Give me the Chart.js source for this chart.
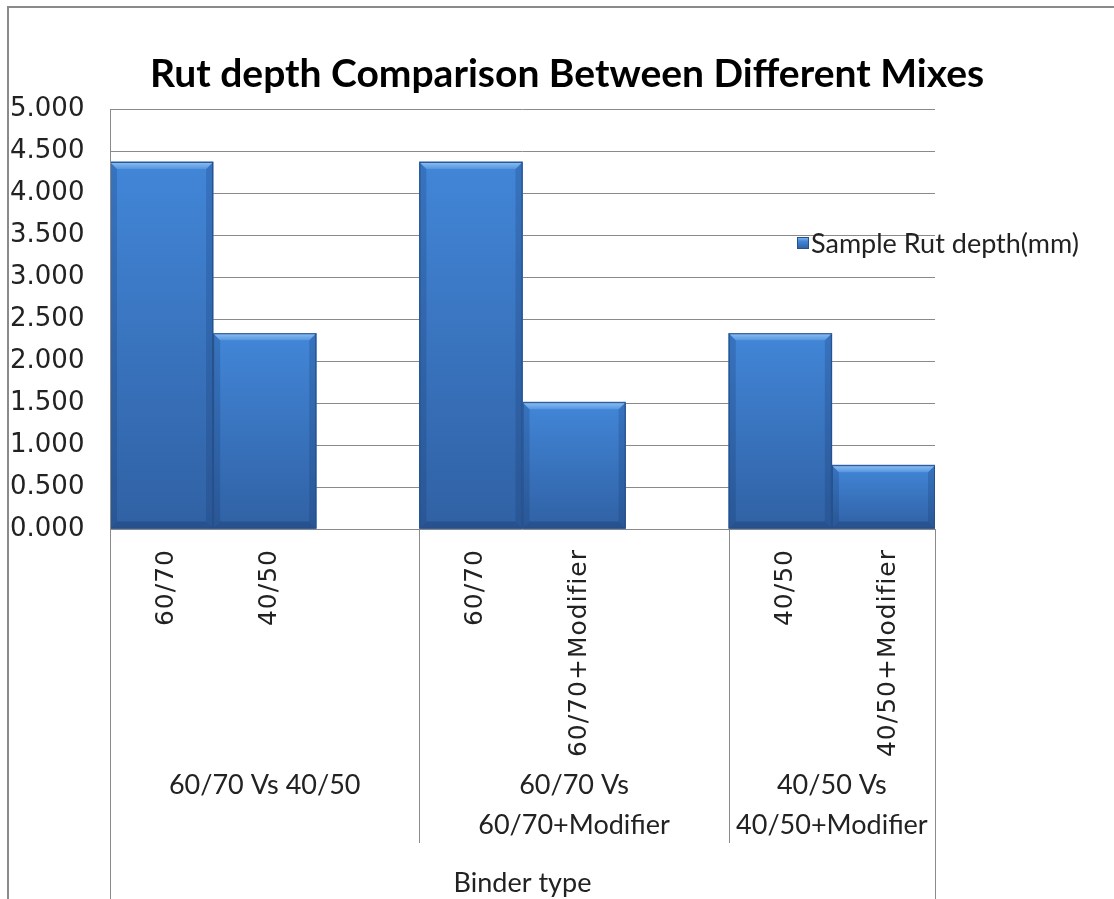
<!DOCTYPE html>
<html>
<head>
<meta charset="utf-8">
<script src="https://cdn.jsdelivr.net/npm/chart.js@4.4.0/dist/chart.umd.min.js"></script>
<style>
    html, body { margin: 0; padding: 0; background: #fff; }
    canvas { display: block; }
</style>
</head>
<body>
<canvas id="rutChart" width="1114" height="899"></canvas>
<script>
// Chart data
const chartTitle = "Rut depth Comparison Between Different Mixes";
const seriesName = "Sample Rut depth(mm)";
const axisTitle = "Binder type";
const categories = ["60/70", "40/50", "", "60/70", "60/70+Modifier", "", "40/50", "40/50+Modifier"];
const rutDepth = [4.37, 2.33, null, 4.37, 1.51, null, 2.33, 0.76];
const groupLabels = [["60/70 Vs 40/50"], ["60/70 Vs", "60/70+Modifier"], ["40/50 Vs", "40/50+Modifier"]];
const groupSizes = [3, 3, 2];
const yMin = 0, yMax = 5, yStep = 0.5;

const labelFont = "Lato, 'Open Sans', sans-serif";
const tickFont = "'DejaVu Sans', Verdana, sans-serif";

// Excel-like look: frame, bevelled bars, multi-level category axis
const excelLook = {
    id: "excelLook",
    beforeDraw(chart) {
        const { ctx, width, height } = chart;
        ctx.save();
        ctx.fillStyle = "#fff";
        ctx.fillRect(0, 0, width, height);
        ctx.strokeStyle = "#8a8a8a";
        ctx.lineWidth = 2;
        ctx.beginPath();
        ctx.moveTo(8, height);
        ctx.lineTo(8, 7);
        ctx.lineTo(width, 7);
        ctx.stroke();
        ctx.restore();
    },
    afterDatasetsDraw(chart) {
        const { ctx } = chart;
        const meta = chart.getDatasetMeta(0);
        ctx.save();
        meta.data.forEach((bar, i) => {
            if (rutDepth[i] === null) return;
            const { x, y, base, width } = bar.getProps(["x", "y", "base", "width"], true);
            const l = x - width / 2, r = x + width / 2, h = base - y;
            const body = ctx.createLinearGradient(0, y, 0, base);
            body.addColorStop(0, "#4286d8");
            body.addColorStop(1, "#3061a4");
            ctx.fillStyle = body;
            ctx.fillRect(l, y, width, h);
            const b = 7;
            // side shading
            ctx.fillStyle = "rgba(20,50,100,0.22)";
            ctx.beginPath();
            ctx.moveTo(l, y); ctx.lineTo(l + b, y + b); ctx.lineTo(l + b, base - b); ctx.lineTo(l, base);
            ctx.closePath(); ctx.fill();
            ctx.beginPath();
            ctx.moveTo(r, y); ctx.lineTo(r - b, y + b); ctx.lineTo(r - b, base - b); ctx.lineTo(r, base);
            ctx.closePath(); ctx.fill();
            ctx.fillStyle = "rgba(20,45,90,0.3)";
            ctx.beginPath();
            ctx.moveTo(l, base); ctx.lineTo(l + b, base - b); ctx.lineTo(r - b, base - b); ctx.lineTo(r, base);
            ctx.closePath(); ctx.fill();
            // top highlight
            const top = ctx.createLinearGradient(0, y, 0, y + b);
            top.addColorStop(0, "#8fc0f4");
            top.addColorStop(1, "#5596e0");
            ctx.fillStyle = top;
            ctx.beginPath();
            ctx.moveTo(l, y); ctx.lineTo(r, y); ctx.lineTo(r - b, y + b); ctx.lineTo(l + b, y + b);
            ctx.closePath(); ctx.fill();
            ctx.strokeStyle = "#274f88";
            ctx.lineWidth = 1;
            ctx.strokeRect(l + 0.5, y + 0.5, width - 1, h - 1);
        });
        ctx.restore();
    },
    afterDraw(chart) {
        const { ctx, chartArea, width } = chart;
        const xs = chart.scales.x;
        const step = xs.getPixelForValue(1) - xs.getPixelForValue(0);
        const bottom = chart.height;
        ctx.save();
        ctx.strokeStyle = "#8a8a8a";
        ctx.lineWidth = 1;

        // outer vertical lines of category axis
        ctx.beginPath();
        ctx.moveTo(chartArea.left + 0.5, chartArea.top);
        ctx.lineTo(chartArea.left + 0.5, bottom);
        ctx.moveTo(chartArea.right + 0.5, chartArea.bottom);
        ctx.lineTo(chartArea.right + 0.5, bottom);
        ctx.stroke();

        // rotated category labels
        ctx.fillStyle = "#222";
        ctx.font = `25px ${tickFont}`;
        ctx.textAlign = "right";
        ctx.textBaseline = "middle";
        ctx.letterSpacing = "1px";
        categories.forEach((c, i) => {
            if (!c) return;
            ctx.save();
            ctx.translate(xs.getPixelForValue(i) + 5, chartArea.bottom + 20);
            ctx.rotate(-Math.PI / 2);
            ctx.fillText(c, 0, 0);
            ctx.restore();
        });
        ctx.letterSpacing = "0px";

        // group dividers and labels
        ctx.font = `27px ${labelFont}`;
        ctx.textAlign = "center";
        let start = 0;
        groupSizes.forEach((n, g) => {
            const gl = xs.getPixelForValue(start) - step / 2;
            const gr = xs.getPixelForValue(start + n - 1) + step / 2;
            if (g > 0) {
                ctx.beginPath();
                ctx.moveTo(Math.round(gl) + 0.5, chartArea.bottom);
                ctx.lineTo(Math.round(gl) + 0.5, chartArea.bottom + 314);
                ctx.stroke();
            }
            groupLabels[g].forEach((t, k) => {
                ctx.fillText(t, (gl + gr) / 2, chartArea.bottom + 256 + k * 40);
            });
            start += n;
        });

        // axis title
        ctx.fillText(axisTitle, (chartArea.left + chartArea.right) / 2, chartArea.bottom + 354);

        // legend
        const lx = chartArea.right - 138, ly = chartArea.top + 128;
        const lg = ctx.createLinearGradient(0, ly, 0, ly + 12);
        lg.addColorStop(0, "#8fc0f4");
        lg.addColorStop(0.35, "#4286d8");
        lg.addColorStop(1, "#2f5e9e");
        ctx.fillStyle = lg;
        ctx.fillRect(lx, ly, 12, 12);
        ctx.strokeStyle = "#274f88";
        ctx.strokeRect(lx + 0.5, ly + 0.5, 11, 11);
        ctx.fillStyle = "#222";
        ctx.textAlign = "left";
        ctx.font = `27px ${labelFont}`;
        ctx.fillText(seriesName, lx + 14, ly + 7);

        // title
        ctx.fillStyle = "#000";
        ctx.textAlign = "center";
        ctx.font = `bold 39px ${labelFont}`;
        ctx.fillText(chartTitle, width / 2 + 10, 74);
        ctx.restore();
    }
};

new Chart(document.getElementById("rutChart"), {
    type: "bar",
    data: {
        labels: categories,
        datasets: [
            {
                label: seriesName,
                data: rutDepth,
                backgroundColor: "#3b76c2",
                borderWidth: 0,
                barPercentage: 1,
                categoryPercentage: 1,
            },
        ],
    },
    options: {
        responsive: false,
        animation: false,
        layout: { padding: { top: 109, left: 10, right: 179, bottom: 0 } },
        scales: {
            x: {
                ticks: { display: false },
                grid: { display: false },
                border: { display: false },
                afterFit: (scale) => { scale.height = 370; },
            },
            y: {
                min: yMin,
                max: yMax,
                ticks: {
                    stepSize: yStep,
                    crossAlign: "far",
                    padding: 0,
                    color: "#222",
                    font: { family: tickFont, size: 26 },
                    callback: (v) => v.toFixed(3),
                },
                grid: { color: "#8a8a8a", lineWidth: 1, drawTicks: false },
                border: { display: false },
                afterFit: (scale) => { scale.width = 100; },
            },
        },
        plugins: {
            legend: { display: false },
            title: { display: false },
            tooltip: { enabled: false },
        },
    },
    plugins: [excelLook],
});
</script>
</body>
</html>
